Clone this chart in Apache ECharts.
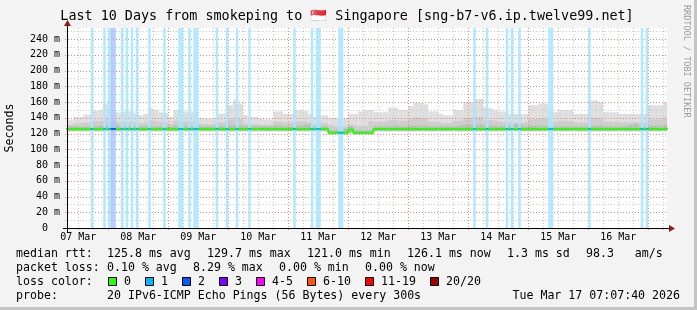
<!DOCTYPE html>
<html><head><meta charset="utf-8">
<script src="https://cdn.jsdelivr.net/npm/echarts@6/dist/echarts.min.js"></script>
<style>html,body{margin:0;padding:0;background:#f3f3f3}#c{width:697px;height:310px}</style>
</head><body><div id="c"></div>
<script>
// ---------------- data ----------------
const titleText = 'Last 10 Days from smokeping to 🇸🇬 Singapore [sng-b7-v6.ip.twelve99.net]';
const xStartHour = 7.5;          // hours after 07 Mar 00:00
const xEndHour = 247.5;
const yTopValue = 254;
const dayLabels = ['07 Mar','08 Mar','09 Mar','10 Mar','11 Mar','12 Mar','13 Mar','14 Mar','15 Mar','16 Mar'];
const dayLabelHours = [12,36,60,84,108,132,156,180,204,228];
const majorGridHours = [24,48,72,96,120,144,168,192,216,240];
const minorGridHours = [12,18,30,36,42,54,60,66,78,84,90,102,108,114,126,132,138,150,156,162,174,180,186,198,204,210,222,228,234,246];
const yMajorGrid = [20,40,60,80,100,120,140,160,180,200,220,240];
const yMinorGrid = [10,30,50,70,90,110,130,150,170,190,210,230,250];

const smokeStart = 6, smokeStep = 2;   // 2-hour bins
const smokeHi = [137,137,141,141,144,144,149,150,157,150,147,146,148,148,146,143,145,152,150,147,
 146,141,150,150,148,147,147,140,139,139,140,145,146,156,163,158,143,141,141,139,
 138,138,148,148,145,145,150,150,149,145,141,143,143,140,140,140,140,145,145,148,
 150,150,147,147,147,153,153,150,150,155,159,159,157,148,148,145,143,143,150,150,
 160,160,164,164,153,152,150,148,148,145,145,145,145,156,156,158,158,147,147,150,
 150,150,145,145,145,162,162,160,147,147,147,145,145,145,145,145,145,156,156,156,160];
const smokeMid = [131,131,133,133,134,134,136,136,139,136,135,134,135,135,134,133,134,137,136,135,
 134,132,136,136,135,135,135,132,132,132,132,134,134,138,140,138,133,132,132,131,
 131,131,135,135,134,134,136,136,135,134,132,133,133,131,129,129,129,131,130,129,
 130,136,135,135,135,137,137,136,136,138,140,140,139,135,135,134,133,133,136,136,
 140,140,141,141,137,137,136,135,135,134,134,134,134,138,138,139,139,135,135,136,
 136,136,134,134,134,140,140,139,135,135,135,134,134,134,134,134,134,138,138,138,140];
const smokeInner = [129,129,129,129,129,129,129,130,130,134,131,129,129,129,129,129,129,130,129,129,
 129,129,130,130,129,129,129,129,129,129,129,129,129,130,131,130,129,129,129,129,
 129,129,130,130,129,129,130,130,131,132,129,129,129,124,124,124,126,130,124,124,
 124,124,129,129,129,129,130,129,129,130,130,130,130,129,129,129,129,129,129,130,
 131,131,131,131,130,130,130,129,129,130,132,131,129,130,130,130,130,129,129,129,
 129,129,129,129,129,130,130,130,129,129,129,129,129,131,132,129,129,130,130,130,131];
const smokeLo = [123,123,123,123,123,123,123,123,123,123,123,123,123,123,123,123,123,123,123,123,
 123,123,123,123,123,123,123,123,123,123,123,123,123,123,123,123,123,123,123,123,
 123,123,123,123,123,123,123,123,123,123,123,123,123,119,119,119,119,121,119,119,
 119,119,123,123,123,123,123,123,123,123,123,123,123,123,123,123,123,123,123,123,
 123,123,123,123,123,123,123,123,123,123,123,123,123,123,123,123,123,123,123,123,
 123,123,123,123,123,123,123,123,123,123,123,123,123,123,123,123,123,123,123,123,123];
const medianVals = [125.8,125.8,125.8,125.8,125.8,125.8,125.8,125.8,125.8,125.8,125.8,125.8,125.8,125.8,125.8,125.8,125.8,125.8,125.8,125.8,
 125.8,125.8,125.8,125.8,125.8,125.8,125.8,125.8,125.8,125.8,125.8,125.8,125.8,125.8,125.8,125.8,125.8,125.8,125.8,125.8,
 125.8,125.8,125.8,125.8,125.8,125.8,125.8,125.8,125.8,125.8,125.8,125.8,125.8,121.0,121.0,121.0,121.0,125.0,121.0,121.0,
 121.0,121.0,125.8,125.8,125.8,125.8,125.8,125.8,125.8,125.8,125.8,125.8,125.8,125.8,125.8,125.8,125.8,125.8,125.8,125.8,
 125.8,125.8,125.8,125.8,125.8,125.8,125.8,125.8,125.8,125.8,125.8,125.8,125.8,125.8,125.8,125.8,125.8,125.8,125.8,125.8,
 125.8,125.8,125.8,125.8,125.8,125.8,125.8,125.8,125.8,125.8,125.8,125.8,125.8,125.8,125.8,125.8,125.8,125.8,125.8,125.8,126.1];

const lossHours  = [17,22,24,25,26,29,31,33,35,40,46,52,53,56,58,59,67,71,75,80,98,105,107,108,116,117,170,175,183,185,188,200,201,216,237,239];
const lossCounts = [1,1,1,2,2,1,1,1,1,1,1,1,1,1,1,1,1,1,1,1,1,1,1,1,1,1,1,1,1,1,1,1,1,1,1,1];

const lossLabels = ['0','1','2','3','4-5','6-10','11-19','20/20'];
const lossColors = ['#26ff00','#00b8ff','#0059ff','#7e00ff','#ff00ff','#ff5500','#ff0000','#a10000'];
const lossBgColors = ['#ffffff','#a6e6ff','#a6c5ff','#cba6ff','#ffa6ff','#ffc4a6','#ffa6a6','#dca6a6'];

const rttStats = ['125.8 ms avg','129.7 ms max','121.0 ms min','126.1 ms now','1.3 ms sd','98.3   am/s'];
const lossStats = ['0.10 % avg','8.29 % max','0.00 % min','0.00 % now'];
const probeText = '20 IPv6-ICMP Echo Pings (56 Bytes) every 300s';
const dateText = 'Tue Mar 17 07:07:40 2026';

// ---------------- layout ----------------
const G = {left: 67, top: 28, width: 600, height: 200};
const MONO = "'DejaVu Sans Mono', monospace";
const CW = 7; // legend char width

function smokeLayer(lo, hi, color, z) {
  return {
    type: 'custom', z: z, silent: true, clip: true,
    data: lo.map((v, i) => [smokeStart + i * smokeStep, v, hi[i]]),
    encode: {x: 0, y: [1, 2]},
    renderItem(params, api) {
      const t = api.value(0);
      const p1 = api.coord([t, api.value(2)]);
      const p2 = api.coord([t + smokeStep, api.value(1)]);
      const cs = params.coordSys;
      const r = echarts.graphic.clipRectByRect(
        {x: p1[0], y: p1[1], width: p2[0] - p1[0], height: p2[1] - p1[1]},
        {x: cs.x, y: cs.y, width: cs.width, height: cs.height});
      return r && {type: 'rect', shape: r, style: {fill: color}};
    }
  };
}

function medianAt(h) {
  const i = Math.min(medianVals.length - 1, Math.max(0, Math.floor((h - smokeStart) / smokeStep)));
  return medianVals[i];
}

const medianLine = medianVals.map((v, i) => [smokeStart + i * smokeStep, v]);
medianLine.push([smokeStart + medianVals.length * smokeStep, medianVals[medianVals.length - 1]]);

function gridSeries(vals, dir, color, z) {
  return {
    type: 'custom', z: z, silent: true, clip: false,
    data: vals.map(v => [v]),
    encode: dir === 'v' ? {x: 0} : {y: 0},
    renderItem(params, api) {
      const cs = params.coordSys;
      if (dir === 'v') {
        const x = Math.round(api.coord([api.value(0), 0])[0]) + 0.5;
        return {type: 'line', shape: {x1: x, y1: cs.y, x2: x, y2: cs.y + cs.height + 2},
          style: {stroke: color, lineWidth: 1, lineDash: [1, 2]}};
      } else {
        const y = Math.round(api.coord([xStartHour, api.value(0)])[1]) + 0.5;
        return {type: 'line', shape: {x1: cs.x - 2, y1: y, x2: cs.x + cs.width, y2: y},
          style: {stroke: color, lineWidth: 1, lineDash: [1, 2]}};
      }
    }
  };
}

const chart = echarts.init(document.getElementById('c'), null, {renderer: 'canvas'});

// legend graphics
const gfx = [];
const row = [254, 268, 282, 296];
function txt(x, y, s, extra) {
  gfx.push(Object.assign({type: 'text', x: x, y: y,
    style: {text: s, font: '11.6px ' + MONO, fill: '#000', textVerticalAlign: 'middle'}}, extra || {}));
}
txt(16, row[0], 'median rtt:');
let cx = 107;
rttStats.forEach(s => { txt(cx, row[0], s); cx += s.length * CW + 16; });
txt(16, row[1], 'packet loss:');
cx = 107;
lossStats.forEach(s => { txt(cx, row[1], s); cx += s.length * CW + 16; });
txt(16, row[2], 'loss color:');
cx = 108;
lossLabels.forEach((s, i) => {
  gfx.push({type: 'rect', shape: {x: cx + 0.5, y: row[2] - 4.5, width: 8, height: 8},
    style: {fill: lossColors[i], stroke: '#000', lineWidth: 1}});
  txt(cx + 16, row[2], s);
  cx += s.length * CW + 30;
});
txt(16, row[3], 'probe:');
txt(107, row[3], probeText);
gfx.push({type: 'text', x: 680, y: row[3], style: {text: dateText, font: '11.6px ' + MONO, fill: '#000', textAlign: 'right', textVerticalAlign: 'middle'}});

// title
gfx.push({type: 'text', x: 347, y: 17, style: {text: titleText, font: '13.4px ' + MONO, fill: '#000', textAlign: 'center', textVerticalAlign: 'middle'}});
// y name
gfx.push({type: 'text', x: 10, y: 128, rotation: Math.PI / 2, style: {text: 'Seconds', font: '11.6px ' + MONO, fill: '#000', textAlign: 'center', textVerticalAlign: 'middle'}});
// watermark
gfx.push({type: 'text', x: 686, y: 5, rotation: -Math.PI / 2, style: {text: 'RRDTOOL / TOBI OETIKER', font: '8.5px ' + MONO, fill: '#9a9a9a', textAlign: 'left', textVerticalAlign: 'middle'}});

// axes lines + arrows
const xo = G.left + 0.5, yo = G.top + G.height + 0.5;
gfx.push({type: 'line', z: 50, shape: {x1: G.left - 4, y1: yo, x2: G.left + G.width + 4, y2: yo}, style: {stroke: '#000', lineWidth: 1}});
gfx.push({type: 'polygon', z: 50, shape: {points: [[G.left + G.width + 2, yo - 3.5], [G.left + G.width + 2, yo + 3.5], [G.left + G.width + 8, yo]]}, style: {fill: '#8b1a1a'}});
gfx.push({type: 'line', z: 50, shape: {x1: xo, y1: yo + 4, x2: xo, y2: G.top - 4}, style: {stroke: '#000', lineWidth: 1}});
gfx.push({type: 'polygon', z: 50, shape: {points: [[xo - 3.5, G.top - 2], [xo + 3.5, G.top - 2], [xo, G.top - 8]]}, style: {fill: '#8b1a1a'}});
// frame
gfx.push({type: 'rect', shape: {x: 694, y: 0, width: 3, height: 310}, style: {fill: '#c4c4c4'}});
gfx.push({type: 'rect', shape: {x: 0, y: 307, width: 697, height: 3}, style: {fill: '#c4c4c4'}});

chart.setOption({
  backgroundColor: '#f3f3f3',
  animation: false,
  grid: Object.assign({backgroundColor: '#ffffff', show: true, borderWidth: 0}, G),
  xAxis: {
    type: 'value', min: xStartHour, max: xEndHour,
    axisLine: {show: false}, axisTick: {show: false}, splitLine: {show: false},
    axisLabel: {
      customValues: dayLabelHours,
      formatter: v => dayLabels[dayLabelHours.indexOf(v)] || '',
      fontFamily: MONO, fontSize: 10, color: '#000', margin: 4
    }
  },
  yAxis: {
    type: 'value', min: 0, max: yTopValue, interval: 20,
    axisLine: {show: false}, axisTick: {show: false}, splitLine: {show: false},
    axisLabel: {
      formatter: v => v === 0 ? '0  ' : (v % 20 === 0 ? v + ' m' : ''),
      showMaxLabel: false,
      fontFamily: MONO, fontSize: 10, color: '#000', margin: 7
    }
  },
  series: [
    smokeLayer(smokeLo, smokeHi, '#dedede', 2),
    smokeLayer(smokeLo, smokeMid, '#cdcdcd', 3),
    smokeLayer(smokeLo, smokeInner, '#b9b9b9', 3),
    gridSeries(minorGridHours, 'v', '#c8c8c8', 4),
    gridSeries(majorGridHours, 'v', '#f08080', 5),
    gridSeries(yMinorGrid, 'h', '#c8c8c8', 4),
    gridSeries(yMajorGrid, 'h', '#f08080', 5),
    {
      type: 'custom', z: 6, silent: true, clip: true,
      data: lossHours.map((h, i) => [h, lossCounts[i]]),
      encode: {x: 0},
      renderItem(params, api) {
        const h = api.value(0), c = api.value(1);
        const p1 = api.coord([h, yTopValue]);
        const p2 = api.coord([h + 1, 0]);
        return {type: 'rect', shape: {x: p1[0], y: p1[1], width: p2[0] - p1[0], height: p2[1] - p1[1]},
          style: {fill: lossBgColors[c], opacity: 0.9}};
      }
    },
    {
      type: 'line', z: 8, silent: true, data: medianLine, step: 'end', symbol: 'none',
      lineStyle: {color: lossColors[0], width: 2}
    },
    {
      type: 'custom', z: 9, silent: true, clip: true,
      data: lossHours.map((h, i) => [h, lossCounts[i]]),
      encode: {x: 0},
      renderItem(params, api) {
        const h = api.value(0), c = api.value(1);
        const m = medianAt(h);
        const p1 = api.coord([h, m]);
        const p2 = api.coord([h + 1, m]);
        return {type: 'line', shape: {x1: p1[0], y1: p1[1], x2: p2[0], y2: p2[1]},
          style: {stroke: lossColors[c], lineWidth: 2}};
      }
    }
  ],
  graphic: {elements: gfx}
});
</script></body></html>
